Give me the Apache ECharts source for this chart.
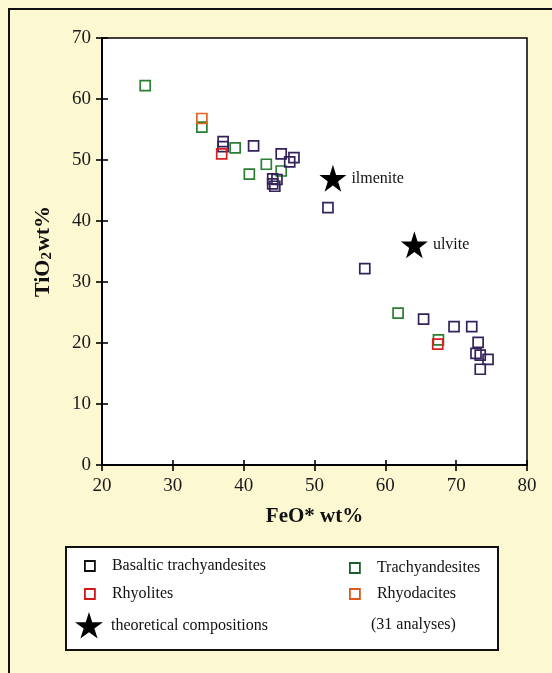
<!DOCTYPE html>
<html>
<head>
<meta charset="utf-8">
<script src="https://cdn.jsdelivr.net/npm/echarts@6/dist/echarts.min.js"></script>
<style>
html,body{margin:0;padding:0;background:#fbf8d2;}
#chart{width:552px;height:673px;}
</style>
</head>
<body>
<div id="chart"></div>
<script>
// ---- data (FeO* wt%, TiO2 wt%) ----
const basalticFeO  = [37.1, 37.1, 41.4, 45.3, 47.1, 46.5, 44.1, 44.7, 44.1, 44.4, 51.9, 57.1, 65.4, 69.7, 72.2, 73.1, 72.8, 73.4, 74.5, 73.4];
const basalticTiO2 = [53.0, 52.2, 52.3, 51.0, 50.4, 49.7, 46.9, 46.8, 46.1, 45.7, 42.2, 32.2, 23.9, 22.7, 22.7, 20.1, 18.3, 18.0, 17.3, 15.7];
const trachyFeO    = [26.1, 34.1, 38.8, 43.2, 45.3, 40.8, 61.8, 67.5];
const trachyTiO2   = [62.2, 55.4, 52.0, 49.3, 48.2, 47.7, 24.9, 20.5];
const rhyoliteFeO  = [36.9, 67.4];
const rhyoliteTiO2 = [51.0, 19.8];
const rhyodaciteFeO  = [34.1];
const rhyodaciteTiO2 = [56.8];
const theoryNames = ['ilmenite', 'ulvite'];
const theoryFeO   = [52.6, 64.1];
const theoryTiO2  = [47.0, 36.1];
const xTicks = [20, 30, 40, 50, 60, 70, 80];
const yTicks = [0, 10, 20, 30, 40, 50, 60, 70];
const seriesNames = ['Basaltic trachyandesites', 'Trachyandesites', 'Rhyolites', 'Rhyodacites', 'theoretical compositions'];
const analysesNote = '(31 analyses)';

const pairs = (xs, ys) => xs.map((x, i) => [x, ys[i]]);
const SERIF = '"Liberation Serif", "DejaVu Serif", serif';
const STAR = 'path://M50,0 L61.2,34.5 L97.6,34.5 L68.2,55.9 L79.4,90.5 L50,69.1 L20.6,90.5 L31.8,55.9 L2.4,34.5 L38.8,34.5 Z';
const SQ = 'path://M0,0 L10,0 L10,10 L0,10 Z';

const chart = echarts.init(document.getElementById('chart'), null, {renderer: 'canvas'});

function sq(color) {
  return {color: 'rgba(0,0,0,0)', borderColor: color, borderWidth: 1.7, opacity: 1};
}

const axisCommon = {
  type: 'value',
  splitLine: {show: false},
  axisLine: {show: true, onZero: false, lineStyle: {color: '#000', width: 2}},
  axisTick: {show: true, length: 6, lineStyle: {color: '#000', width: 1.6}},
};

const legendCommon = {
  orient: 'vertical',
  selectedMode: false,
  padding: 0,
  itemWidth: 10,
  itemHeight: 10,
  itemGap: 0,
  textStyle: {fontFamily: SERIF, fontSize: 16, color: '#111', padding: [0, 0, 0, 12]},
};

const option = {
  backgroundColor: '#fbf8d2',
  animation: false,
  grid: {left: 102, right: 25, top: 38, bottom: 208, show: true,
         backgroundColor: '#ffffff', borderColor: '#000', borderWidth: 1.5},
  xAxis: [
    Object.assign({}, axisCommon, {
      min: xTicks[0], max: xTicks[xTicks.length - 1], interval: 10, position: 'bottom',
      name: 'FeO* wt%', nameLocation: 'middle', nameGap: 41,
      nameTextStyle: {fontFamily: SERIF, fontSize: 21, fontWeight: 'bold', color: '#111'},
      axisLabel: {fontFamily: SERIF, fontSize: 19, color: '#1a1a1a', margin: 12},
    }),
    Object.assign({}, axisCommon, {
      min: xTicks[0], max: xTicks[xTicks.length - 1], interval: 10, position: 'bottom',
      axisLine: {show: false, onZero: false}, axisLabel: {show: false},
      axisTick: {show: true, inside: true, length: 5, lineStyle: {color: '#000', width: 1.6}},
    })
  ],
  yAxis: [
    Object.assign({}, axisCommon, {
      min: yTicks[0], max: yTicks[yTicks.length - 1], interval: 10, position: 'left',
      name: 'TiO{s|2}wt%', nameLocation: 'middle', nameGap: 47,
      nameTextStyle: {fontFamily: SERIF, fontSize: 22, fontWeight: 'bold', color: '#111',
        rich: {s: {fontFamily: SERIF, fontSize: 15, fontWeight: 'bold', color: '#111', verticalAlign: 'bottom', padding: [9, 1, 0, 0]}}},
      axisLabel: {fontFamily: SERIF, fontSize: 19, color: '#1a1a1a', margin: 11},
    }),
    Object.assign({}, axisCommon, {
      min: yTicks[0], max: yTicks[yTicks.length - 1], interval: 10, position: 'left',
      axisLine: {show: false, onZero: false}, axisLabel: {show: false},
      axisTick: {show: true, inside: true, length: 6, lineStyle: {color: '#000', width: 1.6}},
    })
  ],
  legend: [
    Object.assign({}, legendCommon, {left: 84, top: 558,
      data: [{name: seriesNames[0], icon: SQ, itemStyle: {borderColor: '#111', color: 'rgba(0,0,0,0)', borderWidth: 1.8}}]}),
    Object.assign({}, legendCommon, {left: 84, top: 586,
      data: [{name: seriesNames[2], icon: SQ, itemStyle: {borderColor: '#d01818', color: 'rgba(0,0,0,0)', borderWidth: 1.8}}]}),
    Object.assign({}, legendCommon, {left: 75, top: 612, itemWidth: 28, itemHeight: 27,
      textStyle: {fontFamily: SERIF, fontSize: 16, color: '#111', padding: [0, 0, 0, 3]},
      data: [{name: seriesNames[4], icon: STAR, itemStyle: {color: '#000', opacity: 1}}]}),
    Object.assign({}, legendCommon, {left: 349, top: 560,
      data: [{name: seriesNames[1], icon: SQ, itemStyle: {borderColor: '#1d5e2c', color: 'rgba(0,0,0,0)', borderWidth: 1.8}}]}),
    Object.assign({}, legendCommon, {left: 349, top: 586,
      data: [{name: seriesNames[3], icon: SQ, itemStyle: {borderColor: '#e0581c', color: 'rgba(0,0,0,0)', borderWidth: 1.8}}]}),
  ],
  graphic: [
    {type: 'line', z: 100, shape: {x1: 8, y1: 9, x2: 552, y2: 9}, style: {stroke: '#111', lineWidth: 2}},
    {type: 'line', z: 100, shape: {x1: 9, y1: 8, x2: 9, y2: 673}, style: {stroke: '#111', lineWidth: 2}},
    {type: 'rect', z: -1, shape: {x: 66, y: 547, width: 432, height: 103}, style: {fill: '#ffffff', stroke: '#111', lineWidth: 2}},
    {type: 'text', z: 10, left: 371, top: 617, style: {text: analysesNote, font: '16px ' + SERIF, fill: '#111'}},
  ],
  series: [
    {name: seriesNames[1], type: 'scatter', symbol: 'rect', symbolSize: 10,
     itemStyle: sq('#2a7f32'), data: pairs(trachyFeO, trachyTiO2)},
    {name: seriesNames[0], type: 'scatter', symbol: 'rect', symbolSize: 10,
     itemStyle: sq('#34225a'), data: pairs(basalticFeO, basalticTiO2)},
    {name: seriesNames[2], type: 'scatter', symbol: 'rect', symbolSize: 10,
     itemStyle: sq('#d81f1f'), data: pairs(rhyoliteFeO, rhyoliteTiO2)},
    {name: seriesNames[3], type: 'scatter', symbol: 'rect', symbolSize: 10,
     itemStyle: sq('#e2641e'), data: pairs(rhyodaciteFeO, rhyodaciteTiO2)},
    {name: seriesNames[4], type: 'scatter', symbol: STAR, symbolSize: 27,
     itemStyle: {color: '#000', opacity: 1},
     label: {show: true, position: 'right', distance: 5, formatter: '{b}',
             fontFamily: SERIF, fontSize: 16, color: '#111'},
     data: theoryNames.map((n, i) => ({name: n, value: [theoryFeO[i], theoryTiO2[i]]}))},
  ]
};
chart.setOption(option);
</script>
</body>
</html>
